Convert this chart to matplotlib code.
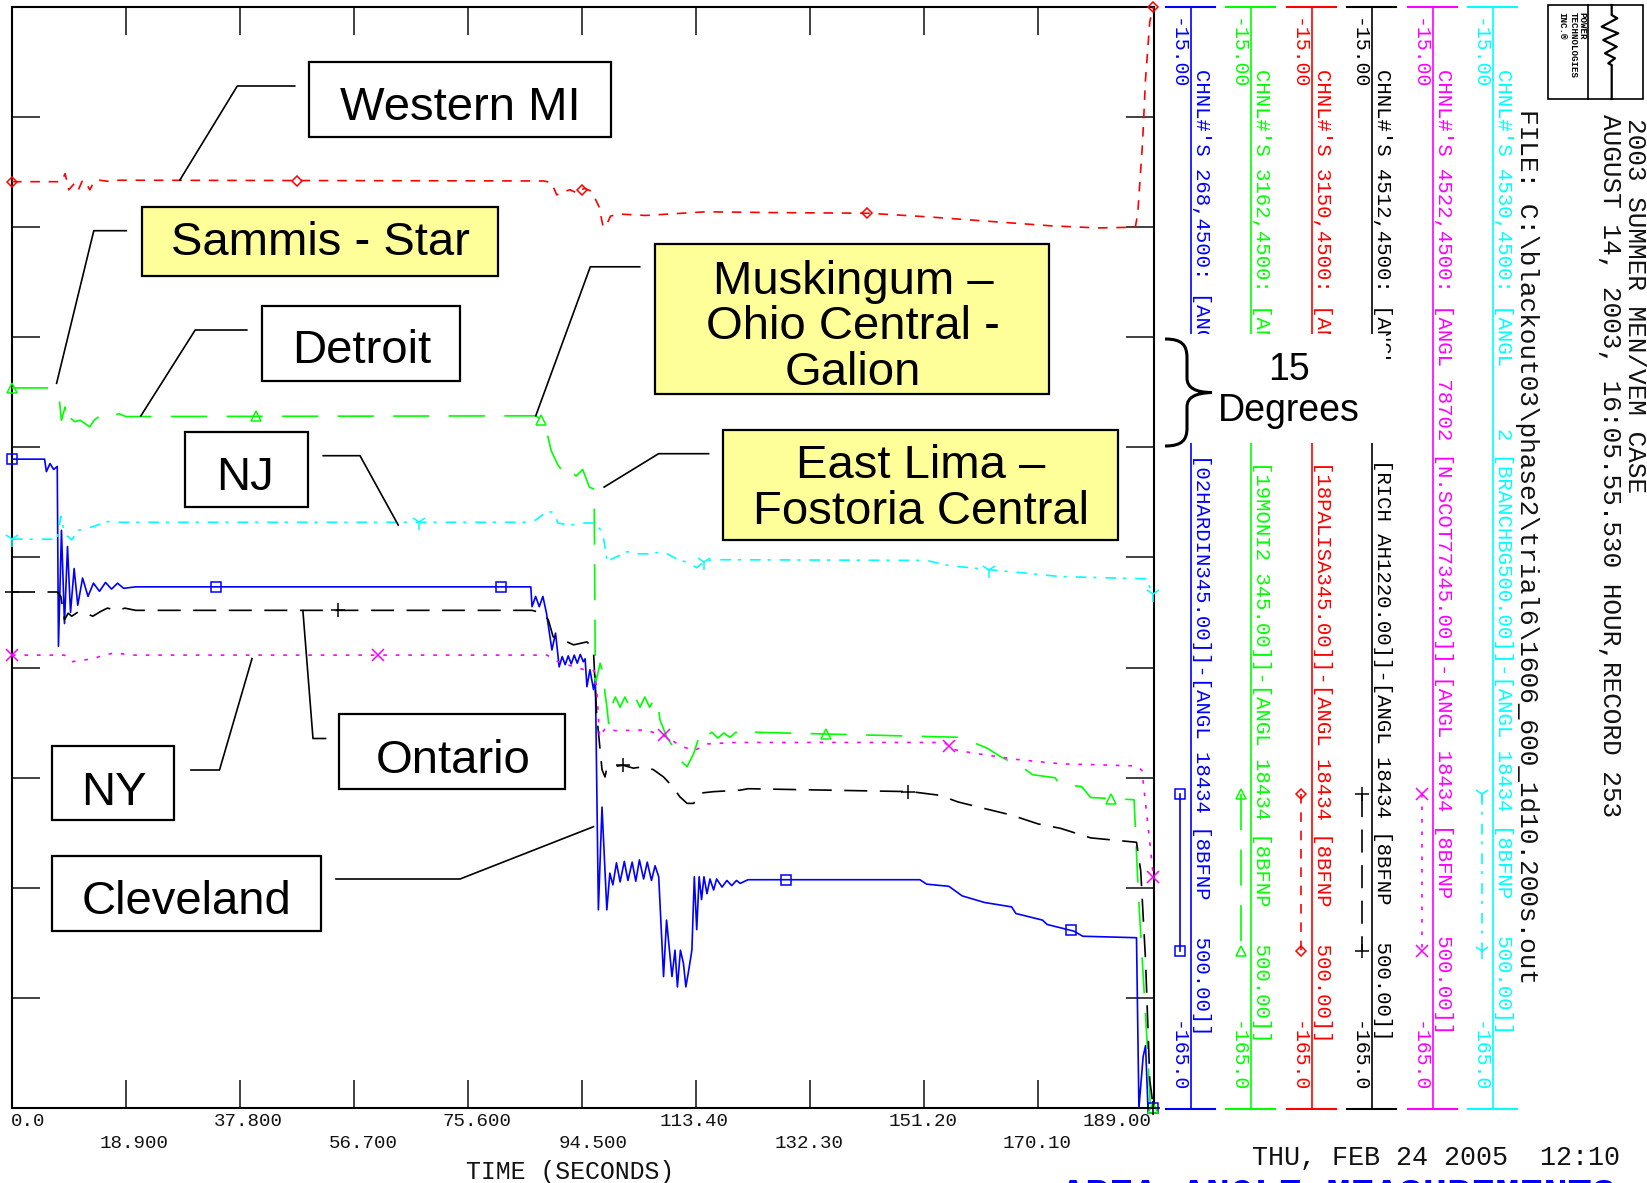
import numpy as np
import matplotlib
matplotlib.use("Agg")
import matplotlib.pyplot as plt
from matplotlib.patches import Rectangle, PathPatch
from matplotlib.path import Path
from matplotlib.transforms import blended_transform_factory, offset_copy

plt.rcParams["lines.scale_dashes"] = False
plt.rcParams["font.family"] = ["Liberation Sans", "DejaVu Sans"]
MONO = ["Liberation Mono", "DejaVu Sans Mono"]

W, H = 1647, 1183

# Bus angle traces (time in s, angle in deg) relative to 8BFNP 500 kV
hardin = [
    (0, -76.6), (5.4, -76.6), (5.7, -78.3), (6.3, -77.2), (6.9, -78.0), (7.5, -77.6),
    (7.7, -102.1), (8.2, -86.3), (8.7, -99.0), (9.2, -88.5), (9.7, -97.5), (10.3, -91.5),
    (10.9, -96.5), (11.7, -92.8), (12.6, -95.3), (13.5, -93.5), (14.5, -94.6), (15.5, -93.4),
    (16.5, -94.3), (17.5, -93.5), (18.5, -94.2), (20.5, -94.0), (86.0, -94.0), (86.2, -96.7),
    (86.8, -95.3), (87.4, -96.7), (88.0, -95.3), (88.6, -97.6), (89.5, -102.6), (90.1, -100.3),
    (90.7, -104.9), (91.2, -103.5), (91.7, -104.6), (92.2, -103.4), (92.7, -104.5), (93.2, -103.3),
    (93.7, -104.4), (94.2, -103.2), (94.7, -104.2), (95.0, -103.8), (95.3, -107.6), (95.8, -105.3),
    (96.4, -108.0), (96.7, -106.5), (97.2, -138.0), (97.8, -124.0), (98.6, -138.0), (99.1, -133.0),
    (99.6, -134.6), (100.2, -131.6), (100.8, -134.2), (101.5, -131.4), (102.1, -134.0),
    (102.8, -131.5), (103.4, -134.1), (104.0, -131.2), (104.7, -133.8), (105.3, -131.5),
    (106.0, -134.0), (106.6, -132.0), (107.2, -133.5), (108.0, -147.1), (108.5, -139.4),
    (109.4, -147.1), (109.9, -143.5), (110.3, -148.5), (110.8, -143.5), (111.3, -145.3),
    (111.7, -148.5), (112.1, -146.6), (112.7, -143.5), (113.1, -133.5), (113.5, -140.7),
    (113.9, -133.5), (114.3, -136.6), (114.7, -133.5), (115.2, -135.8), (115.7, -133.8),
    (116.3, -135.3), (116.8, -133.8), (117.7, -134.9), (118.5, -134.0), (119.3, -134.7),
    (120.1, -134.0), (120.7, -134.4), (122.0, -133.9), (150.5, -133.9), (151.6, -134.5),
    (155.3, -134.8), (157.5, -136.1), (161.2, -137.0), (165.7, -137.6), (166.4, -138.5),
    (170.8, -139.4), (171.6, -140.0), (176.0, -140.9), (177.5, -141.6), (186.4, -141.8),
    (186.8, -165.0), (187.5, -158.0), (187.9, -156.5), (188.3, -165.0), (189.2, -165.0),
]
monroe = [
    (0, -66.9), (6.3, -66.9), (7.2, -67.4), (7.8, -68.1), (8.2, -71.3), (8.8, -69.5),
    (9.1, -71.7), (9.7, -71.0), (10.4, -71.5), (11.3, -71.3), (12.0, -71.7), (12.9, -72.2),
    (13.6, -71.3), (15.1, -70.4), (16.4, -70.8), (17.7, -70.4), (18.9, -70.8), (86.8, -70.7),
    (87.9, -71.3), (88.7, -73.1), (89.4, -75.5), (90.5, -77.4), (91.6, -78.6), (92.4, -78.0),
    (93.5, -78.9), (94.6, -78.0), (95.7, -80.4), (96.5, -80.7), (96.7, -107.2), (97.5, -104.4),
    (98.0, -105.8), (98.3, -108.5), (98.6, -110.3), (98.9, -112.6), (99.1, -111.7),
    (99.4, -110.3), (100.0, -109.0), (100.8, -110.4), (101.6, -109.0), (102.4, -110.4),
    (103.3, -109.0), (104.1, -110.4), (104.9, -109.0), (105.7, -110.4), (106.5, -109.2),
    (107.1, -110.0), (107.4, -112.1), (108.5, -114.4), (109.6, -115.8), (110.7, -117.6),
    (111.9, -118.5), (113.0, -116.7), (114.1, -113.9), (115.0, -114.5), (116.0, -113.8),
    (117.0, -114.6), (118.0, -113.9), (119.0, -114.5), (120.0, -113.8), (121.0, -114.3),
    (122.7, -113.8), (157.3, -114.5), (161.7, -116.0), (164.0, -117.2), (167.7, -118.7),
    (169.2, -119.6), (172.9, -120.0), (173.6, -120.9), (177.3, -121.2), (178.8, -122.7),
    (186.0, -123.0), (186.7, -135.7), (188.1, -155.2), (188.7, -165.0), (189.2, -165.0),
]
palisades = [
    (0, -38.8), (8.2, -38.8), (8.8, -37.7), (9.4, -39.9), (10.4, -39.0), (11.0, -39.9),
    (11.7, -38.6), (12.3, -39.0), (12.9, -39.9), (13.6, -38.8), (14.5, -38.6), (16.4, -38.8),
    (17.7, -38.6), (88.1, -38.7), (89.4, -38.9), (90.3, -40.6), (91.3, -40.2), (92.5, -39.9),
    (93.8, -40.4), (94.8, -39.7), (95.8, -40.0), (96.6, -41.0), (97.3, -42.2), (98.0, -45.0),
    (98.6, -44.6), (99.2, -43.5), (100.5, -43.2), (105.0, -43.4), (115.0, -42.9),
    (125.0, -43.0), (142.0, -43.1), (152.0, -43.6), (162.0, -44.2), (172.0, -44.8),
    (180.0, -45.1), (186.2, -45.0), (186.6, -43.2), (187.4, -33.5), (187.9, -24.8),
    (188.6, -17.0), (189.2, -15.0),
]
richview = [
    (0, -94.7), (7.5, -94.7), (8.1, -95.3), (8.7, -98.5), (9.3, -97.6), (9.9, -98.0),
    (11.0, -97.4), (12.2, -97.6), (13.4, -98.0), (14.6, -97.4), (15.8, -96.9), (17.6, -97.2),
    (18.7, -96.9), (20.5, -97.2), (86.2, -97.2), (88.0, -97.6), (88.9, -98.5), (89.7, -100.8),
    (90.6, -101.0), (92.0, -101.5), (93.1, -101.9), (95.3, -101.5), (95.8, -101.9),
    (96.4, -103.0), (96.9, -111.2), (97.8, -118.9), (98.3, -119.9), (98.6, -118.7),
    (99.7, -118.5), (101.3, -118.3), (103.0, -118.7), (104.7, -118.5), (106.3, -118.9),
    (108.0, -119.9), (109.6, -121.3), (110.7, -122.6), (111.9, -123.5), (113.0, -123.5),
    (114.1, -122.1), (116.3, -121.9), (120.7, -121.7), (122.0, -121.5), (149.0, -121.9),
    (153.8, -122.4), (156.8, -123.3), (161.2, -124.2), (165.7, -125.1), (170.1, -126.3),
    (173.8, -126.9), (178.8, -128.2), (186.4, -128.8), (187.1, -132.7), (187.9, -144.9),
    (188.6, -161.2), (189.2, -165.0),
]
north_scott = [
    (0, -103.3), (8.7, -103.3), (9.9, -104.2), (11.6, -104.0), (13.4, -103.8), (15.2, -103.3),
    (17.0, -103.0), (20.0, -103.3), (88.7, -103.3), (90.2, -104.1), (92.4, -104.7),
    (95.3, -105.4), (96.5, -105.4), (96.9, -107.6), (97.4, -114.5), (98.3, -113.3),
    (100.0, -113.6), (105.0, -113.5), (108.2, -114.3), (110.9, -115.7), (113.1, -116.3),
    (115.3, -115.4), (120.0, -115.2), (154.6, -115.2), (155.7, -116.1), (159.0, -116.6),
    (166.4, -117.5), (173.8, -118.1), (186.4, -118.4), (187.3, -119.0), (188.5, -128.0),
    (189.2, -133.5),
]
branchburg = [
    (0, -87.5), (7.5, -87.5), (8.1, -84.4), (8.7, -86.7), (9.9, -87.6), (11.0, -86.3),
    (13.4, -85.8), (15.8, -85.1), (18.0, -85.2), (85.6, -85.2), (86.8, -84.9), (88.6, -83.8),
    (89.8, -83.8), (90.5, -85.3), (92.4, -85.6), (94.6, -85.3), (96.5, -85.3), (97.2, -85.9),
    (97.9, -86.5), (98.7, -90.8), (99.4, -90.2), (100.5, -89.8), (102.0, -89.2), (103.5, -89.5),
    (105.7, -89.5), (107.9, -89.2), (110.2, -90.2), (112.4, -90.8), (113.5, -91.4),
    (115.0, -90.4), (116.8, -90.3), (151.6, -90.4), (155.3, -91.1), (162.5, -91.7),
    (166.4, -92.0), (173.8, -92.6), (187.9, -92.9), (189.2, -95.0),
]

# Axis definition and labels
time_grid = [18.9, 37.8, 56.7, 75.6, 94.5, 113.4, 132.3, 151.2, 170.1]
angle_grid = [-30, -45, -60, -75, -90, -105, -120, -135, -150]
time_ticks = [0.0, 18.9, 37.8, 56.7, 75.6, 94.5, 113.4, 132.3, 151.2, 170.1, 189.0]
time_labels = ["0.0", "18.900", "37.800", "56.700", "75.600", "94.500",
               "113.40", "132.30", "151.20", "170.10", "189.00"]
scale_top, scale_bottom = "-15.00", "-165.0"

chnl_head = [
    "CHNL#'S 268,4500: [ANGL",
    "CHNL#'S 3162,4500: [ANGL",
    "CHNL#'S 3150,4500: [ANGL",
    "CHNL#'S 4512,4500: [ANGL",
    "CHNL#'S 4522,4500: [ANGL 78702 [N.SCOT77345.00]]-[ANGL 18434 [8BFNP   500.00]]",
    "CHNL#'S 4530,4500: [ANGL     2 [BRANCHBG500.00]]-[ANGL 18434 [8BFNP   500.00]]",
]
chnl_tail = [
    "[02HARDIN345.00]]-[ANGL 18434 [8BFNP   500.00]]",
    "[19MONI2 345.00]]-[ANGL 18434 [8BFNP   500.00]]",
    "[18PALISA345.00]]-[ANGL 18434 [8BFNP   500.00]]",
    "[RICH AH1220.00]]-[ANGL 18434 [8BFNP   500.00]]",
    "",
    "",
]

traces = [hardin, monroe, palisades, richview, north_scott, branchburg]
trace_styles = [
    dict(color="#0000ff", ls="-", marker="s", ms=7),
    dict(color="#00ff00", ls=(0, (26, 14)), marker="^", ms=7),
    dict(color="#ff0000", ls=(0, (6.9, 6.3)), marker="D", ms=5.5),
    dict(color="#000000", ls=(0, (16.6, 9)), marker="+", ms=10),
    dict(color="#ff00ff", ls=(0, (2.6, 6.4)), marker="x", ms=8),
    dict(color="#00ffff", ls=(0, (7.7, 5, 2.2, 6.5)), marker="1", ms=11),
]
marker_offsets = [33.75, 40.5, 47.25, 54.0, 60.75, 67.5]
marker_step = 47.25

fig = plt.figure(figsize=(W / 100, H / 100), dpi=100)
ax = fig.add_axes([12 / W, 1 - 1108 / H, 1142 / W, 1101 / H])
deco = fig.add_axes([0, 0, 1, 1], zorder=5)
deco.set_xlim(0, W)
deco.set_ylim(H, 0)
deco.axis("off")

ax.set_xlim(0, 189.3)
ax.set_ylim(-165, -15)
ax.set_xticks(time_grid)
ax.set_yticks(angle_grid)
ax.tick_params(direction="in", length=20, width=1.3, color="#333333",
               top=True, right=True, labelbottom=False, labelleft=False)
for sp in ax.spines.values():
    sp.set_linewidth(1.5)

for pts, st, off in zip(traces, trace_styles, marker_offsets):
    t, v = np.array(pts).T
    ax.plot(t, v, color=st["color"], linestyle=st["ls"], lw=1.2, zorder=3)
    mt = np.concatenate([[0.0], np.arange(off, 188.0, marker_step), [t[-1]]])
    ax.plot(mt, np.interp(mt, t, v), linestyle="none", marker=st["marker"],
            ms=st["ms"], mfc="none", mec=st["color"], mew=1.1, clip_on=False, zorder=4)

# time tick labels in two staggered rows under the axis
label_dx = [-1, 8, 8, 9, 8.5, 11, -2, -1, -1, -1, -35.5]
label_row_y = [1122, 1144]
base = blended_transform_factory(ax.transData, fig.transFigure)
for i, (tv, lab) in enumerate(zip(time_ticks, time_labels)):
    tr = offset_copy(base, fig=fig, x=label_dx[i], y=0, units="dots")
    ha = "left" if i == 0 else "center"
    ax.text(tv, 1 - label_row_y[i % 2] / H, lab, transform=tr, ha=ha, va="center",
            family=MONO, fontsize=13.8, color="#111111", clip_on=False)
deco.text(570, 1179, "TIME (SECONDS)", ha="center", va="baseline",
          family=MONO, fontsize=17.9, color="#111111")

# channel scale columns
col_x = [1190.7, 1251.0, 1311.7, 1372.0, 1432.7, 1492.7]
tail_top = [453.5, 460.5, 460.5, 459.0, 0, 0]
for i, (cx, st) in enumerate(zip(col_x, trace_styles)):
    c = st["color"]
    deco.plot([cx - 25, cx + 24], [6.5, 6.5], color=c, lw=1.5)
    deco.plot([cx - 25, cx + 24], [1108.5, 1108.5], color=c, lw=1.5)
    deco.plot([cx, cx], [6.5, 1108.5], color=c, lw=1.2)
    deco.text(cx - 13.5, 18, scale_top, rotation=-90, ha="center", va="top",
              family=MONO, fontsize=14.3, color=c)
    deco.text(cx - 13.5, 1092, scale_bottom, rotation=-90, ha="center", va="bottom",
              family=MONO, fontsize=14.3, color=c)
    deco.text(cx + 10.5, 69, chnl_head[i], rotation=-90, ha="center", va="top",
              family=MONO, fontsize=14.9, color=c)
    if chnl_tail[i]:
        deco.text(cx + 10.5, tail_top[i], chnl_tail[i], rotation=-90, ha="center",
                  va="top", family=MONO, fontsize=14.9, color=c)
    sx = cx - 10.5
    deco.plot([sx, sx], [794, 951], color=c, linestyle=st["ls"], lw=1.2)
    deco.plot([sx, sx], [794, 951], linestyle="none", marker=st["marker"], ms=st["ms"],
              mfc="none", mec=c, mew=1.1)

# 15 degree scale bracket
deco.add_patch(Rectangle((1190, 334), 196, 109, fc="white", ec="none", zorder=4))
brace = Path(
    [(1165, 339), (1182, 339), (1187, 345), (1187, 358), (1187, 378),
     (1187, 388), (1196, 392.5), (1212, 392.5), (1196, 393), (1187, 397), (1187, 407),
     (1187, 428), (1187, 440), (1182, 446), (1165, 446)],
    [Path.MOVETO, Path.CURVE4, Path.CURVE4, Path.CURVE4, Path.LINETO,
     Path.CURVE4, Path.CURVE4, Path.CURVE4, Path.CURVE4, Path.CURVE4, Path.CURVE4,
     Path.LINETO, Path.CURVE4, Path.CURVE4, Path.CURVE4])
deco.add_patch(PathPatch(brace, fc="none", ec="black", lw=2.2, zorder=5))
deco.text(1289, 380, "15", ha="center", va="baseline", fontsize=27, zorder=6)
deco.text(1289, 421, "Degrees", ha="center", va="baseline", fontsize=27, zorder=6)

# header block
deco.text(1635, 118, "2003 SUMMER MEN/VEM CASE", rotation=-90, ha="center", va="top",
          family=MONO, fontsize=18.8, color="#111111")
deco.text(1610, 114, "AUGUST 14, 2003, 16:05.55.530 HOUR,RECORD 253", rotation=-90,
          ha="center", va="top", family=MONO, fontsize=18.8, color="#111111")
deco.text(1527, 109, "FILE: C:\\blackout03\\phase2\\trial6\\1606_600_1d10.200s.out",
          rotation=-90, ha="center", va="top", family=MONO, fontsize=18.8, color="#111111")

# vendor logo
deco.add_patch(Rectangle((1548, 5), 95, 94, fc="none", ec="black", lw=1.2))
deco.plot([1588, 1588], [5, 99], color="black", lw=1.2)
deco.plot([1611.7, 1611.7, 1617.3, 1601.7, 1618.3, 1603.3, 1616.7, 1605, 1615, 1608.3,
           1611.7, 1611.7],
          [5, 15, 18.3, 26.7, 33.3, 40, 46.7, 53.3, 58.3, 63.3, 65, 99],
          color="black", lw=1.6)
for lx, word in [(1582, "POWER"), (1573, "TECHNOLOGIES"), (1562, "INC.®")]:
    deco.text(lx, 12, word, rotation=-90, ha="center", va="top", family=MONO,
              fontsize=6.6, fontweight="bold")

deco.text(1252, 1165, "THU, FEB 24 2005  12:10", ha="left", va="baseline",
          family=MONO, fontsize=19.3, color="#111111")
deco.text(1061, 1207, "AREA ANGLE MEASUREMENTS", ha="left", va="baseline",
          family=MONO, fontsize=29, fontweight="bold", color="#0000ff")

# region callouts
YELLOW = "#ffff99"
callouts = [
    dict(lines=["Western MI"], cx=460, base=[120], box=(309, 62, 611, 137), fc="white",
         lead=[(294.7, 86), (237.3, 86), (179.9, 180)]),
    dict(lines=["Sammis - Star"], cx=320.5, base=[255], box=(141.6, 206.7, 498.3, 275.7),
         fc=YELLOW, lead=[(126.3, 230.7), (93.8, 230.7), (56.6, 383.3)]),
    dict(lines=["Detroit"], cx=362, base=[363], box=(262, 306, 460, 381), fc="white",
         lead=[(246.8, 330), (195.2, 330), (140.8, 416)]),
    dict(lines=["NJ"], cx=245.5, base=[490], box=(184.5, 432.3, 307.6, 506.7), fc="white",
         lead=[(323.2, 455.7), (360, 455.7), (398.2, 525)]),
    dict(lines=["Muskingum \u2013", "Ohio Central -", "Galion"], cx=853,
         base=[294, 339, 384.5], box=(655.4, 243.7, 1049.4, 393.9), fc=YELLOW,
         lead=[(639.7, 266.8), (590.3, 266.8), (535.8, 415.7)]),
    dict(lines=["East Lima \u2013", "Fostoria Central"], cx=921, base=[478, 524],
         box=(723.3, 430, 1118.4, 539.8), fc=YELLOW,
         lead=[(708.6, 453.7), (658.6, 453.7), (604.1, 487.1)]),
    dict(lines=["NY"], cx=113.5, base=[804.6], box=(51.5, 745.8, 174.4, 820.4), fc="white",
         lead=[(191, 770), (219.5, 770), (252, 658.6)]),
    dict(lines=["Ontario"], cx=453, base=[773], box=(339.3, 714.3, 565.1, 788.9), fc="white",
         lead=[(325.6, 738.5), (313, 738.5), (302.9, 610.7)]),
    dict(lines=["Cleveland"], cx=186, base=[914], box=(51.5, 856, 321.4, 930.7), fc="white",
         lead=[(336, 879), (460, 879), (593.5, 826.7)]),
]
for co in callouts:
    x0, y0, x1, y1 = co["box"]
    deco.add_patch(Rectangle((x0, y0), x1 - x0, y1 - y0, fc=co["fc"], ec="black",
                             lw=1.6, zorder=4))
    for line, yb in zip(co["lines"], co["base"]):
        deco.text(co["cx"], yb, line, ha="center", va="baseline", fontsize=34, zorder=5)
    lx, ly = zip(*co["lead"])
    deco.plot(lx, ly, color="black", lw=1.2, zorder=4)

fig.savefig("out.png", dpi=100, facecolor="white")
